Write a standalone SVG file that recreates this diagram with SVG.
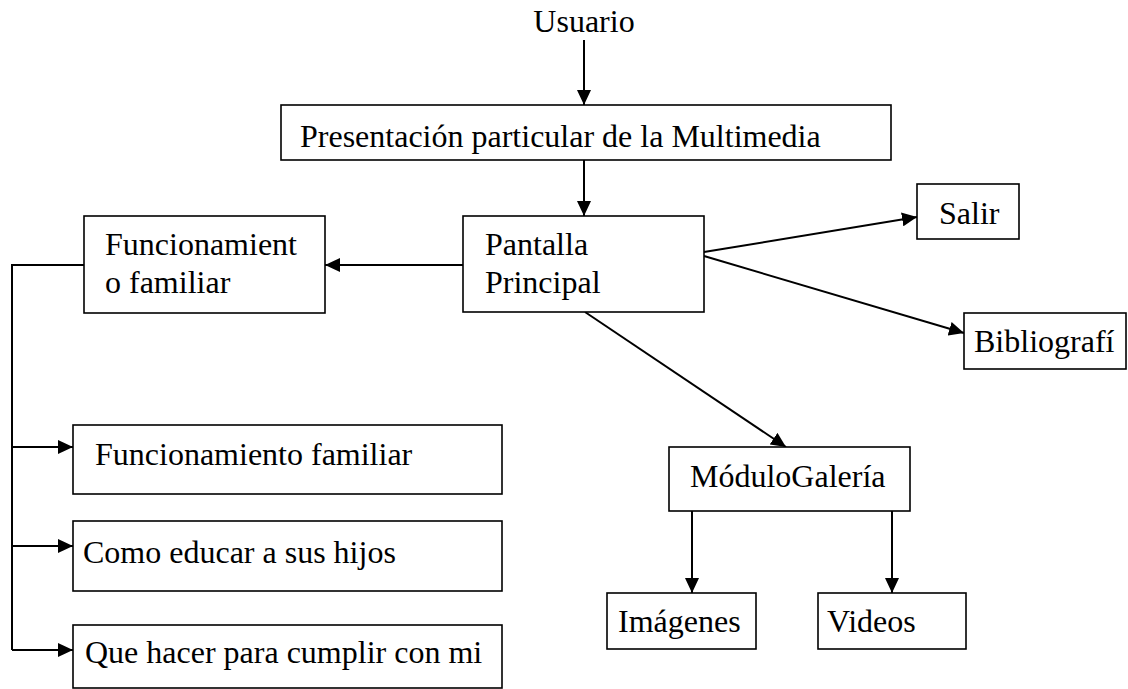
<svg xmlns="http://www.w3.org/2000/svg" width="1128" height="689" viewBox="0 0 1128 689">
<style>
  .box { fill: #ffffff; stroke: #000000; stroke-width: 1.6; }
  .t { font-family: "Liberation Serif", "Times New Roman", serif; font-size: 32px; fill: #000000; }
  .c { fill: none; stroke: #000000; stroke-width: 2; }
  .a { marker-end: url(#arr); }
</style>
<defs>
  <marker id="arr" markerUnits="userSpaceOnUse" markerWidth="16" markerHeight="14" refX="15" refY="7" orient="auto">
    <path d="M0,0 L15,7 L0,14 z" fill="#000000"/>
  </marker>
</defs>
<rect width="1128" height="689" fill="#ffffff"/>

<g id="connectors">
  <line class="c a" x1="584" y1="40" x2="584" y2="105"/>
  <line class="c a" x1="584" y1="160" x2="584" y2="216"/>
  <line class="c a" x1="463" y1="265" x2="325" y2="265"/>
  <line class="c a" x1="704" y1="252" x2="917" y2="217"/>
  <line class="c a" x1="704" y1="256" x2="964" y2="333"/>
  <line class="c a" x1="585" y1="312" x2="786" y2="447"/>
  <line class="c a" x1="692" y1="511" x2="692" y2="593"/>
  <line class="c a" x1="892" y1="511" x2="892" y2="593"/>
  <polyline class="c" points="84,265 12,265 12,650"/>
  <line class="c a" x1="12" y1="447" x2="73" y2="447"/>
  <line class="c a" x1="12" y1="546" x2="73" y2="546"/>
  <line class="c a" x1="12" y1="650" x2="73" y2="650"/>
</g>

<g id="usuario">
  <text class="t" x="584" y="32" text-anchor="middle">Usuario</text>
</g>
<g id="presentacion">
  <rect class="box" x="281" y="105" width="610" height="55"/>
  <text class="t" x="300" y="147">Presentación particular de la Multimedia</text>
</g>
<g id="pantalla">
  <rect class="box" x="463" y="216" width="241" height="96"/>
  <text class="t" x="485" y="255">Pantalla</text>
  <text class="t" x="485" y="293">Principal</text>
</g>
<g id="funcionamiento">
  <rect class="box" x="84" y="216" width="241" height="97"/>
  <text class="t" x="105" y="255">Funcionamient</text>
  <text class="t" x="105" y="293">o familiar</text>
</g>
<g id="salir">
  <rect class="box" x="917" y="184" width="102" height="55"/>
  <text class="t" x="939" y="224">Salir</text>
</g>
<g id="bibliografia">
  <rect class="box" x="964" y="313" width="162" height="56"/>
  <text class="t" x="974" y="352">Bibliografí</text>
</g>
<g id="galeria">
  <rect class="box" x="669" y="447" width="241" height="64"/>
  <text class="t" x="690" y="487">MóduloGalería</text>
</g>
<g id="imagenes">
  <rect class="box" x="607" y="593" width="149" height="56"/>
  <text class="t" x="618" y="632">Imágenes</text>
</g>
<g id="videos">
  <rect class="box" x="818" y="593" width="148" height="56"/>
  <text class="t" x="827" y="632">Videos</text>
</g>
<g id="func-familiar">
  <rect class="box" x="73" y="425" width="429" height="69"/>
  <text class="t" x="95" y="465">Funcionamiento familiar</text>
</g>
<g id="educar">
  <rect class="box" x="73" y="521" width="429" height="70"/>
  <text class="t" x="83" y="563">Como educar a sus hijos</text>
</g>
<g id="cumplir">
  <rect class="box" x="73" y="625" width="429" height="63"/>
  <text class="t" x="85" y="663">Que hacer para cumplir con mi</text>
</g>
</svg>
